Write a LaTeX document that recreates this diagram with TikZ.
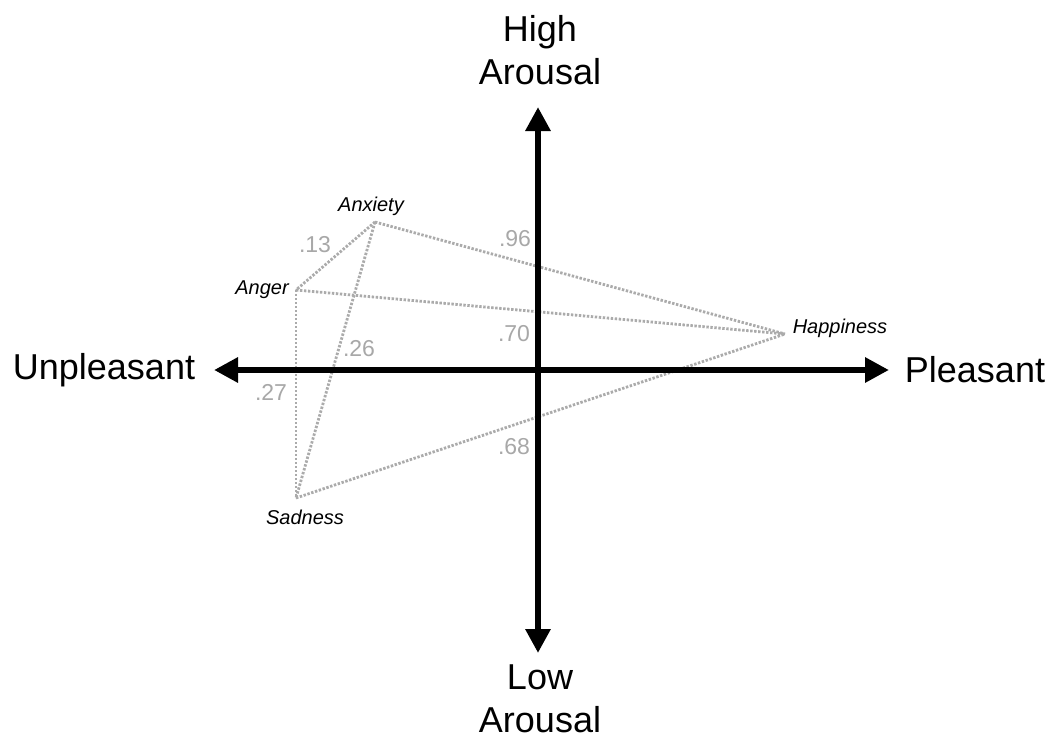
\documentclass[tikz,border=0pt]{standalone}
\usepackage{fontspec}
\setmainfont{Liberation Sans}
\usetikzlibrary{arrows.meta}
\definecolor{dotgray}{HTML}{ABABAB}
\definecolor{numgray}{HTML}{A8A8A8}
\tikzset{
  axis/.style={line width=6pt,-{Triangle[length=24pt,width=24pt]}},
  link/.style={draw=dotgray,line width=2.8pt,dash pattern=on 2.4pt off 1.6pt},
  axlabel/.style={font=\fontsize{36}{43}\selectfont,align=center,inner sep=0pt},
  emo/.style={font=\fontsize{20}{23}\selectfont\itshape,inner sep=0pt},
  num/.style={font=\fontsize{23}{26}\selectfont,text=numgray,inner sep=0pt},
  pt/.style={inner sep=0pt,minimum size=0pt}
}
\begin{document}
\begin{tikzpicture}[x=1pt,y=1pt]
\useasboundingbox[fill=white] (0,0) rectangle (1055,-739);
% axis end coordinates
\coordinate (W) at (214,-370);
\coordinate (E) at (889,-370);
\coordinate (O) at (538,-370);
\coordinate (N) at (538,-107);
\coordinate (S) at (538,-653);
% emotion points
\coordinate (anx) at (375,-222);
\coordinate (ang) at (296,-290);
\coordinate (sad) at (296,-498);
\coordinate (hap) at (785,-334);
% dotted links
\draw[link] (anx) -- (ang);
\draw[link] (anx) -- (hap);
\draw[link] (anx) -- (sad);
\draw[link] (ang) -- (hap);
\draw[link] (ang) -- (sad);
\draw[link] (sad) -- (hap);
% axes
\draw[axis] (O) -- (E);
\draw[axis] (O) -- (W);
\draw[axis] (O) -- (N);
\draw[axis] (O) -- (S);
% axis labels
\node[axlabel] (high) at (540,-50) {High\\Arousal};
\node[axlabel] (low) at (540,-699) {Low\\Arousal};
\node[axlabel] (unp) at (104,-370) {Unpleasant};
\node[axlabel] (ple) at (975,-370) {Pleasant};
% emotion labels
\node[emo] (lanx) at (371,-206) {Anxiety};
\node[emo] (lang) at (262,-290) {Anger};
\node[emo] (lsad) at (305,-517) {Sadness};
\node[emo] (lhap) at (840,-328) {Happiness};
% numbers
\node[num] (n13) at (315,-245) {.13};
\node[num] (n96) at (515,-239) {.96};
\node[num] (n70) at (514,-334) {.70};
\node[num] (n26) at (359,-349) {.26};
\node[num] (n27) at (271,-392) {.27};
\node[num] (n68) at (514,-447) {.68};
\end{tikzpicture}
\end{document}
